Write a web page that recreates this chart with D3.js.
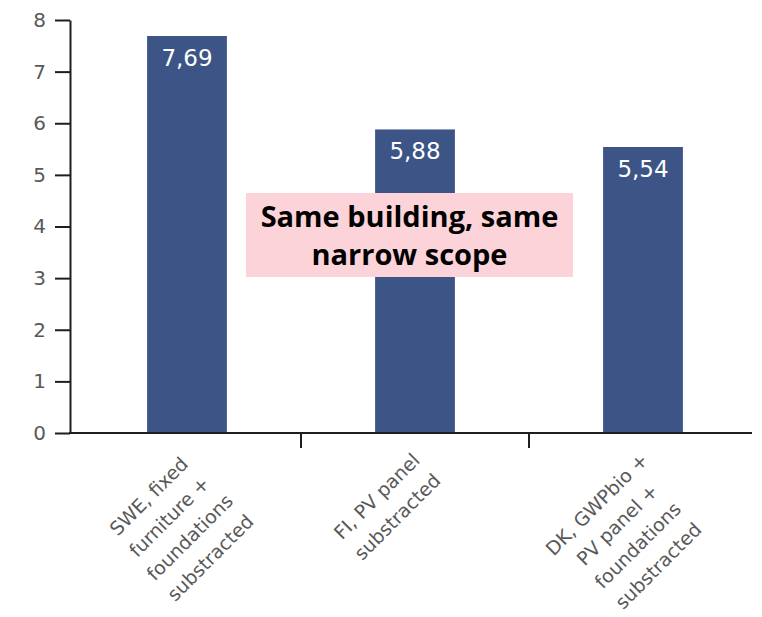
<!DOCTYPE html>
<html>
<head>
<meta charset="utf-8">
<script src="https://cdn.jsdelivr.net/npm/d3@7"></script>
<style>
  html, body { margin: 0; padding: 0; background: #fff; }
  svg { display: block; }
</style>
</head>
<body>
<svg id="chart" width="762" height="617"></svg>
<script>
// Categories (each label split into its display lines) and values
const categories = ["SWE", "FI", "DK"];
const categoryLines = [
  ["SWE, fixed", "furniture +", "foundations", "substracted"],
  ["FI, PV panel", "substracted"],
  ["DK, GWPbio +", "PV panel +", "foundations", "substracted"]
];
const values = [7.69, 5.88, 5.54];
const valueLabels = ["7,69", "5,88", "5,54"];
const yTicks = [0, 1, 2, 3, 4, 5, 6, 7, 8];
const calloutLines = ["Same building, same", "narrow scope"];

const svg = d3.select("#chart");
const axisColor = "#1e1e1e";
const textColor = "#595959";
const barColor = "#3c5586";
const labelFont = "'DejaVu Sans', sans-serif";
const calloutFont = "'Open Sans', sans-serif";

const y = d3.scaleLinear().domain([0, 8]).range([433, 20]);
const x = d3.scaleBand().domain(categories).range([73, 757])
  .paddingInner(0.65).paddingOuter(0.325);

// Bars
svg.append("g").selectAll("rect")
  .data(values)
  .join("rect")
  .attr("x", (d, i) => x(categories[i]))
  .attr("y", d => y(d))
  .attr("width", x.bandwidth())
  .attr("height", d => y(0) - y(d))
  .attr("fill", barColor);

// Value labels inside bars
svg.append("g").selectAll("text")
  .data(values)
  .join("text")
  .attr("x", (d, i) => x(categories[i]) + x.bandwidth() / 2)
  .attr("y", d => y(d) + 30)
  .attr("text-anchor", "middle")
  .attr("fill", "#ffffff")
  .style("font-family", labelFont)
  .style("font-size", "23px")
  .text((d, i) => valueLabels[i]);

// Y axis
const yAxis = svg.append("g")
  .attr("transform", "translate(70,0)")
  .call(d3.axisLeft(y).tickValues(yTicks).tickSize(15).tickSizeOuter(0).tickPadding(9)
    .tickFormat(d3.format("d")));
yAxis.select(".domain").attr("stroke", axisColor).attr("stroke-width", 2);
yAxis.selectAll(".tick line").attr("stroke", axisColor).attr("stroke-width", 2);
yAxis.selectAll(".tick text")
  .attr("fill", textColor)
  .style("font-family", labelFont)
  .style("font-size", "20px");

// X axis baseline and category separator ticks
const xAxis = svg.append("g");
xAxis.append("line")
  .attr("x1", 69).attr("x2", 752)
  .attr("y1", y(0)).attr("y2", y(0))
  .attr("stroke", axisColor).attr("stroke-width", 2);
const step = x.step();
xAxis.selectAll("line.sep")
  .data(categories.slice(1))
  .join("line")
  .attr("class", "sep")
  .attr("x1", d => x(d) - x.paddingInner() * step / 2)
  .attr("x2", d => x(d) - x.paddingInner() * step / 2)
  .attr("y1", y(0)).attr("y2", y(0) + 15)
  .attr("stroke", axisColor).attr("stroke-width", 2);

// Rotated multi-line category labels, top-right corner pinned under each bar
const lineH = 29;
categoryLines.forEach((lines, i) => {
  const cx = x(categories[i]) + x.bandwidth() / 2;
  const g = svg.append("g")
    .attr("transform", `translate(${cx - 9},446) rotate(-45)`);
  const texts = g.selectAll("text")
    .data(lines)
    .join("text")
    .attr("text-anchor", "middle")
    .attr("dominant-baseline", "central")
    .attr("y", (d, j) => lineH * (j + 0.5))
    .attr("fill", textColor)
    .style("font-family", labelFont)
    .style("font-size", "19px")
    .text(d => d);
  const w = d3.max(texts.nodes(), n => n.getComputedTextLength());
  texts.attr("x", -w / 2);
});

// Callout box
const callout = svg.append("g");
callout.append("rect")
  .attr("x", 246).attr("y", 193)
  .attr("width", 327).attr("height", 84)
  .attr("fill", "#fdd3da");
callout.selectAll("text")
  .data(calloutLines)
  .join("text")
  .attr("x", 409.5)
  .attr("y", (d, i) => 227 + i * 38)
  .attr("text-anchor", "middle")
  .attr("fill", "#000")
  .style("font-family", calloutFont)
  .style("font-weight", "bold")
  .style("font-size", "29px")
  .text(d => d);
</script>
</body>
</html>
